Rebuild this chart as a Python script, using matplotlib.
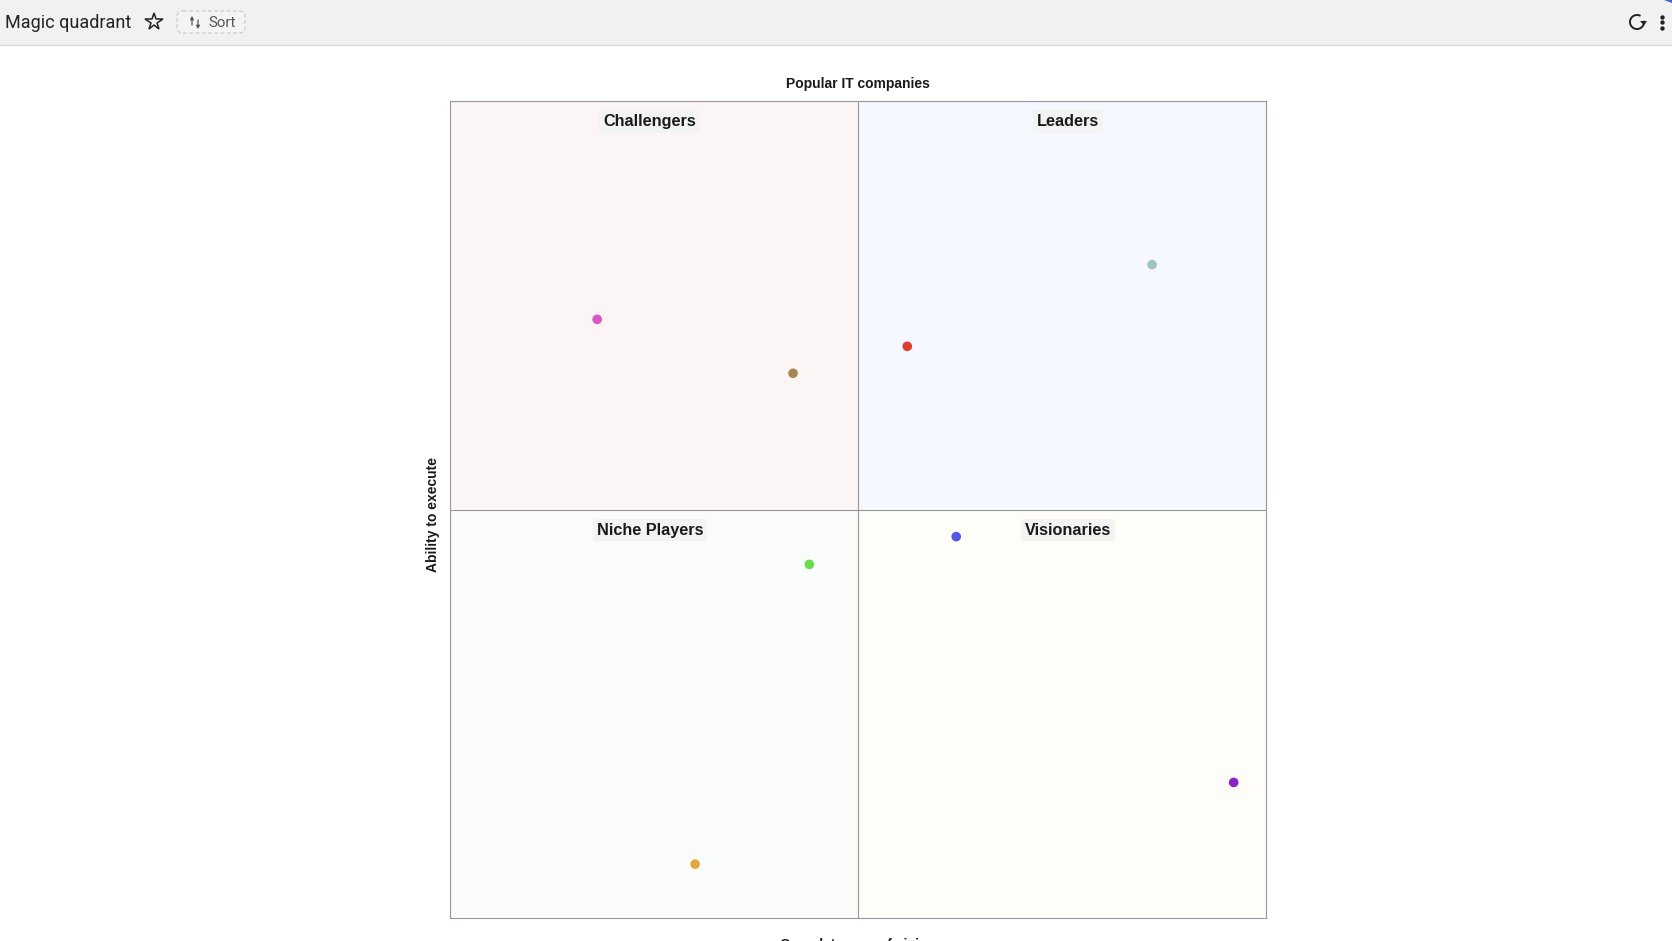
import matplotlib
matplotlib.use('Agg')
import matplotlib.pyplot as plt
from matplotlib.patches import FancyBboxPatch, Rectangle, Arc, Polygon

W, H = 1672, 941

# chart data
companies_x = [18, 42, 56, 86, 62, 44, 96, 30]
companies_y = [73.3, 66.7, 70, 80, 46.7, 43.3, 16.6, 6.6]
company_colors = ['#d957c4', '#a5884f', '#de3d2f', '#a3c4bb', '#5457e0', '#69dc4c', '#8a22c8', '#e0a93f']

quadrant_names = ['Challengers', 'Leaders', 'Niche Players', 'Visionaries']
quadrant_colors = ['#fbf5f5', '#f5f8fe', '#fafcf9', '#fefdf8']
quadrant_x = [0, 50, 0, 50]
quadrant_y = [50, 50, 0, 0]
label_x = [24.4, 75.7, 24.5, 75.7]

title = 'Popular IT companies'
xlabel = 'Completeness of vision'
ylabel = 'Ability to execute'
page_title = 'Magic quadrant'
sort_label = 'Sort'

plt.rcParams['font.family'] = ['Liberation Sans', 'DejaVu Sans']

fig = plt.figure(figsize=(W / 100, H / 100), dpi=100)
fig.patch.set_facecolor('white')

# page chrome, drawn in pixel coords
bar = fig.add_axes([0, 0, 1, 1])
bar.set_xlim(0, W)
bar.set_ylim(H, 0)
bar.axis('off')
bar.add_patch(Rectangle((0, 0), W, 44.5, fc='#f1f1f1', ec='none'))
bar.plot([0, W], [45, 45], color='#d9d9d9', lw=1)
bar.add_patch(Polygon([[1664, 0], [1672, 0], [1672, 3]], fc='#3f62d8', ec='none'))
bar.text(5, 22.5, page_title, fontsize=13, family='Roboto', color='#222222', va='center')
bar.plot([153.5], [22], marker='*', ms=13, mfc='none', mec='#222222', mew=1.1)
bar.add_patch(FancyBboxPatch((177, 11), 68, 22, boxstyle='round,pad=0,rounding_size=6',
                             fc='#f4f4f4', ec='#cccccc', lw=0.9, ls=(0, (3, 2))))
arrow_style = dict(arrowstyle='-|>,head_width=0.1,head_length=0.18', color='#555555', lw=0.9, shrinkA=0, shrinkB=0)
bar.annotate('', xy=(192, 16), xytext=(192, 25), arrowprops=arrow_style)
bar.annotate('', xy=(198, 29), xytext=(198, 20), arrowprops=arrow_style)
bar.text(208, 22.5, sort_label, fontsize=10.8, family='Roboto', color='#555555', va='center')
bar.add_patch(Arc((1637, 22), 14, 14, theta1=-10, theta2=300, color='#222222', lw=1.4))
bar.add_patch(Polygon([[1640, 21], [1647, 21], [1644, 25.5]], fc='#222222', ec='none'))
bar.scatter([1662, 1662, 1662], [16.5, 22, 27.5], s=10, color='#222222', lw=0)

# the chart itself
left, right, top, bottom = 450.3, 1266.3, 101.3, 918
ax = fig.add_axes([left / W, 1 - bottom / H, (right - left) / W, (bottom - top) / H])
ax.set_xlim(0, 100)
ax.set_ylim(0, 100)
ax.set_xticks([])
ax.set_yticks([])
for s in ax.spines.values():
    s.set_color('#979797')
    s.set_linewidth(0.8)

for name, c, qx, qy, lx in zip(quadrant_names, quadrant_colors, quadrant_x, quadrant_y, label_x):
    ax.add_patch(Rectangle((qx, qy), 50, 50, fc=c, ec='none', zorder=0))
    ax.text(lx, qy + 47.5, name, ha='center', va='center', fontsize=11.7, fontweight='bold',
            color='#1a1a1a', zorder=2, bbox=dict(fc='#f3f3f3', ec='none', pad=2.8))

ax.axvline(50, color='#979797', lw=0.8, zorder=1)
ax.axhline(50, color='#979797', lw=0.8, zorder=1)
ax.scatter(companies_x, companies_y, s=48, c=company_colors, lw=0, zorder=3)

bar.text((left + right) / 2, 83.5, title, ha='center', va='center', fontsize=10, fontweight='bold', color='#1a1a1a')
bar.text((left + right) / 2, 945, xlabel, ha='center', va='center', fontsize=10, fontweight='bold', color='#1a1a1a', clip_on=True)
bar.text(433, 514, ylabel, ha='center', va='center', rotation=90, fontsize=10, fontweight='bold', color='#1a1a1a')

fig.savefig('out.png', dpi=100)
